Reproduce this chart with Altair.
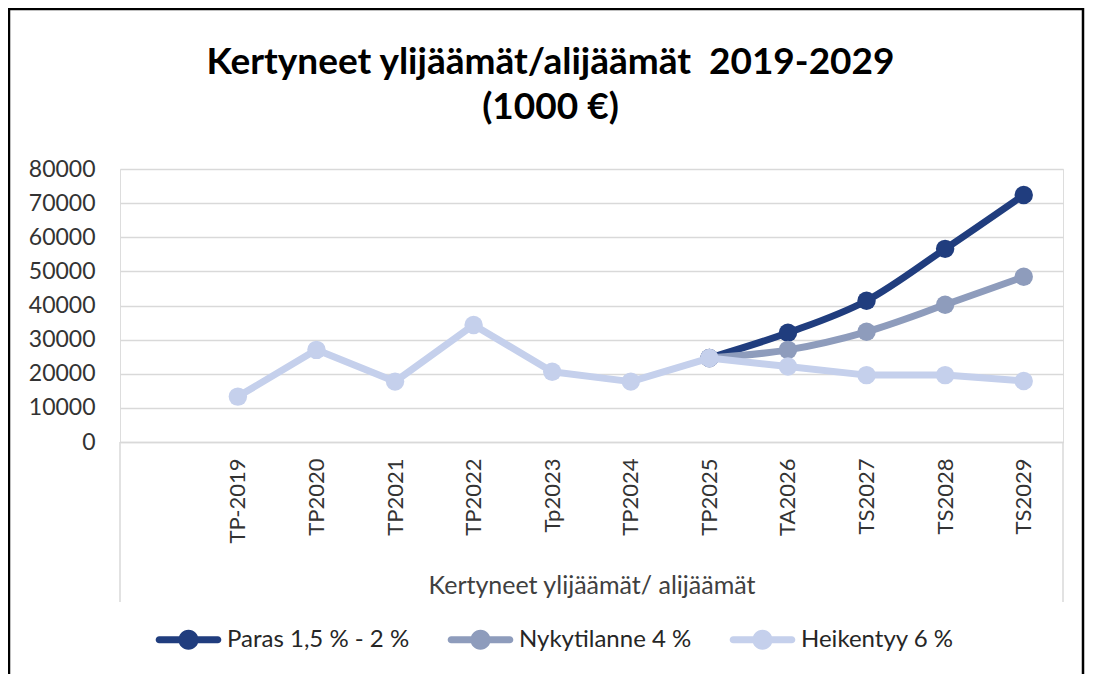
import altair as alt
import pandas as pd

# ---- data ----
categories = ["", "TP-2019", "TP2020", "TP2021", "TP2022", "Tp2023", "TP2024",
              "TP2025", "TA2026", "TS2027", "TS2028", "TS2029"]
heik_cats = ["TP-2019", "TP2020", "TP2021", "TP2022", "Tp2023", "TP2024",
             "TP2025", "TA2026", "TS2027", "TS2028", "TS2029"]
heik_vals = [13300, 27000, 17700, 34300, 20600, 17700, 24600, 22100, 19600, 19600, 17900]
proj_cats = ["TP2025", "TA2026", "TS2027", "TS2028", "TS2029"]
paras_vals = [24600, 32000, 41400, 56600, 72400]
nyky_vals = [24600, 27000, 32300, 40200, 48400]
series_names = ["Paras 1,5 % - 2 %", "Nykytilanne 4 %", "Heikentyy 6 %"]
colors = ["#203D7E", "#8E9CBC", "#C5D0EC"]
y_ticks = [0, 10000, 20000, 30000, 40000, 50000, 60000, 70000, 80000]

FONT = "Lato"
W, H = 943, 273
PAD = {"left": 112, "top": 161, "right": 22, "bottom": 232}

series_data = [
    pd.DataFrame({"cat": proj_cats, "value": paras_vals, "series": series_names[0]}),
    pd.DataFrame({"cat": proj_cats, "value": nyky_vals, "series": series_names[1]}),
    pd.DataFrame({"cat": heik_cats, "value": heik_vals, "series": series_names[2]}),
]
interps = ["monotone", "monotone", "linear"]

x_enc = alt.X(
    "cat:N",
    sort=categories,
    scale=alt.Scale(domain=categories, type="point", padding=0.5),
    axis=alt.Axis(
        title="Kertyneet ylijäämät/ alijäämät",
        labelAngle=270, labelAlign="right", labelBaseline="middle",
        labelPadding=16, ticks=False, grid=False,
        domainColor="#d9d9d9", domainWidth=1.5,
        labelFont=FONT, labelFontSize=22, labelColor="#333333",
        titleFont=FONT, titleFontSize=25, titleFontWeight="normal", titleColor="#404040",
        titleBaseline="alphabetic", titleY=151, titleX=W / 2, titleAnchor="middle",
        labelOverlap=False,
    ),
)
y_enc = alt.Y(
    "value:Q",
    scale=alt.Scale(domain=[0, 80000], nice=False),
    axis=alt.Axis(
        title=None, values=y_ticks, format="d", domain=False, ticks=False,
        gridColor="#d9d9d9", gridWidth=1.5, labelPadding=25,
        labelFont=FONT, labelFontSize=23, labelColor="#333333",
    ),
)
color_scale = alt.Scale(domain=series_names, range=colors)
legend_path = ("M-0.9,-0.11 L0.9,-0.11 A0.11,0.11 0 0,1 0.9,0.11 L-0.9,0.11 "
               "A0.11,0.11 0 0,1 -0.9,-0.11 Z "
               "M-0.31,0 A0.31,0.31 0 1,1 0.31,0 A0.31,0.31 0 1,1 -0.31,0 Z")
legend_def = alt.Legend(
    title=None, orient="none", legendX=36, legendY=438, direction="horizontal",
    symbolType=legend_path, symbolSize=4225, symbolStrokeWidth=0, symbolOpacity=1,
    labelFont=FONT, labelFontSize=24, labelColor="#262626", labelOffset=6,
    labelLimit=400, columnPadding=37, padding=0,
)

one = pd.DataFrame({"a": [0]})
frame = alt.Chart(one).mark_rect(fillOpacity=0, stroke="black", strokeWidth=2.5).encode(
    x=alt.value(-111), x2=alt.value(W + PAD["right"] - 2),
    y=alt.value(-160), y2=alt.value(H + PAD["bottom"] + 40),
)
left_rule = alt.Chart(one).mark_rule(color="#d9d9d9", strokeWidth=1.5).encode(
    x=alt.value(0), y=alt.value(H), y2=alt.value(H + 160))
right_rule = alt.Chart(one).mark_rule(color="#d9d9d9", strokeWidth=1.5).encode(
    x=alt.value(W), y=alt.value(H), y2=alt.value(H + 160))

layers = [frame, left_rule, right_rule]
for df, col, interp in zip(series_data, colors, interps):
    line = alt.Chart(df).mark_line(strokeWidth=7, interpolate=interp, strokeCap="round",
                                   strokeJoin="round").encode(
        x=x_enc, y=y_enc, color=alt.value(col))
    pts = alt.Chart(df).mark_point(filled=True, size=340, opacity=1).encode(
        x=x_enc, y=y_enc,
        color=alt.Color("series:N", scale=color_scale, legend=legend_def))
    layers += [line, pts]

chart = alt.layer(*layers).properties(
    width=W, height=H,
    padding=PAD,
    autosize=alt.AutoSizeParams(type="none"),
    title=alt.TitleParams(
        text=["Kertyneet ylijäämät/alijäämät \u00a02019-2029", "(1000 €)"],
        font=FONT, fontSize=37, fontWeight="bold", color="black",
        anchor="middle", dx=-41, offset=-119, lineHeight=45,
    ),
).configure_view(stroke=None).configure(background="white")

chart.save("out.html", embed_options={"renderer": "svg", "actions": False})
